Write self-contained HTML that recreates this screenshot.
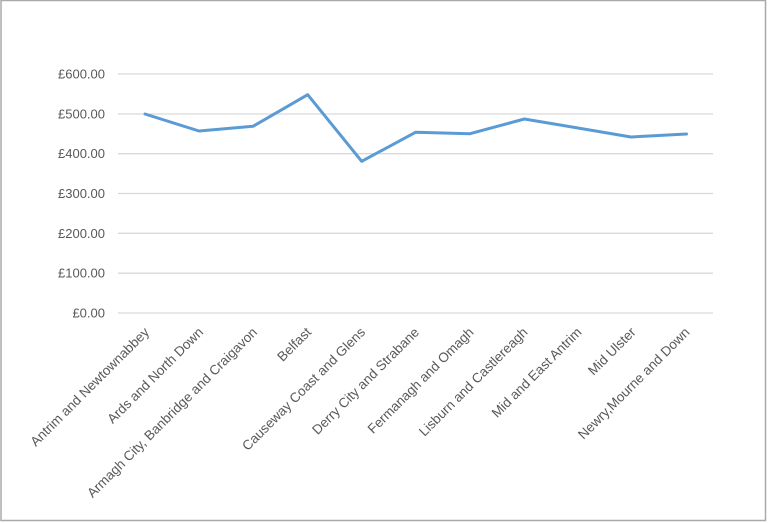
<!DOCTYPE html>
<html>
<head>
<meta charset="utf-8">
<style>
  html, body { margin: 0; padding: 0; background: #fff; }
  body { width: 768px; height: 523px; overflow: hidden; }
  svg { display: block; }
  text { font-family: "Liberation Sans", Arial, sans-serif; fill: #595959; font-size: 13px; }
  .xl text { font-size: 13.5px; }
</style>
</head>
<body>
<svg width="768" height="523" viewBox="0 0 768 523" xmlns="http://www.w3.org/2000/svg">
  <rect x="0" y="0" width="768" height="523" fill="#fff"/>
  <!-- outer border -->
  <rect x="1" y="0.5" width="764.5" height="520" fill="none" stroke="#a9a9a9" stroke-width="1.5"/>
  <line x1="0.5" y1="0" x2="0.5" y2="521" stroke="#c0c0c0" stroke-width="1"/>

  <!-- gridlines -->
  <g stroke="#d9d9d9" stroke-width="1.3">
    <line x1="118" y1="74" x2="713" y2="74"/>
    <line x1="118" y1="114" x2="713" y2="114"/>
    <line x1="118" y1="153.7" x2="713" y2="153.7"/>
    <line x1="118" y1="193.5" x2="713" y2="193.5"/>
    <line x1="118" y1="233.3" x2="713" y2="233.3"/>
    <line x1="118" y1="273.2" x2="713" y2="273.2"/>
    <line x1="118" y1="313" x2="713" y2="313"/>
  </g>

  <!-- y labels -->
  <g text-anchor="end">
    <text x="105" y="78.5">£600.00</text>
    <text x="105" y="118.5">£500.00</text>
    <text x="105" y="158.2">£400.00</text>
    <text x="105" y="198">£300.00</text>
    <text x="105" y="237.8">£200.00</text>
    <text x="105" y="277.7">£100.00</text>
    <text x="105" y="317.5">£0.00</text>
  </g>

  <!-- series -->
  <polyline fill="none" stroke="#5b9bd5" stroke-width="3" stroke-linejoin="round" stroke-linecap="round"
    points="145,114 199,131 253,126.3 307.7,94.7 361.7,161.3 415.5,132.3 470,133.7 524.3,119 578,128 631,137 686.5,134"/>

  <!-- x labels -->
  <g class="xl" text-anchor="end">
    <text transform="translate(150,333) rotate(-45)">Antrim and Newtownabbey</text>
    <text transform="translate(204,333) rotate(-45)">Ards and North Down</text>
    <text transform="translate(258,333) rotate(-45)">Armagh City, Banbridge and Craigavon</text>
    <text transform="translate(312,333) rotate(-45)">Belfast</text>
    <text transform="translate(366,333) rotate(-45)">Causeway Coast and Glens</text>
    <text transform="translate(420,333) rotate(-45)">Derry City and Strabane</text>
    <text transform="translate(474.5,333) rotate(-45)">Fermanagh and Omagh</text>
    <text transform="translate(528.5,333) rotate(-45)">Lisburn and Castlereagh</text>
    <text transform="translate(582.5,333) rotate(-45)">Mid and East Antrim</text>
    <text transform="translate(636.5,333) rotate(-45)">Mid Ulster</text>
    <text transform="translate(690.5,333) rotate(-45)">Newry,Mourne and Down</text>
  </g>
</svg>
</body>
</html>
